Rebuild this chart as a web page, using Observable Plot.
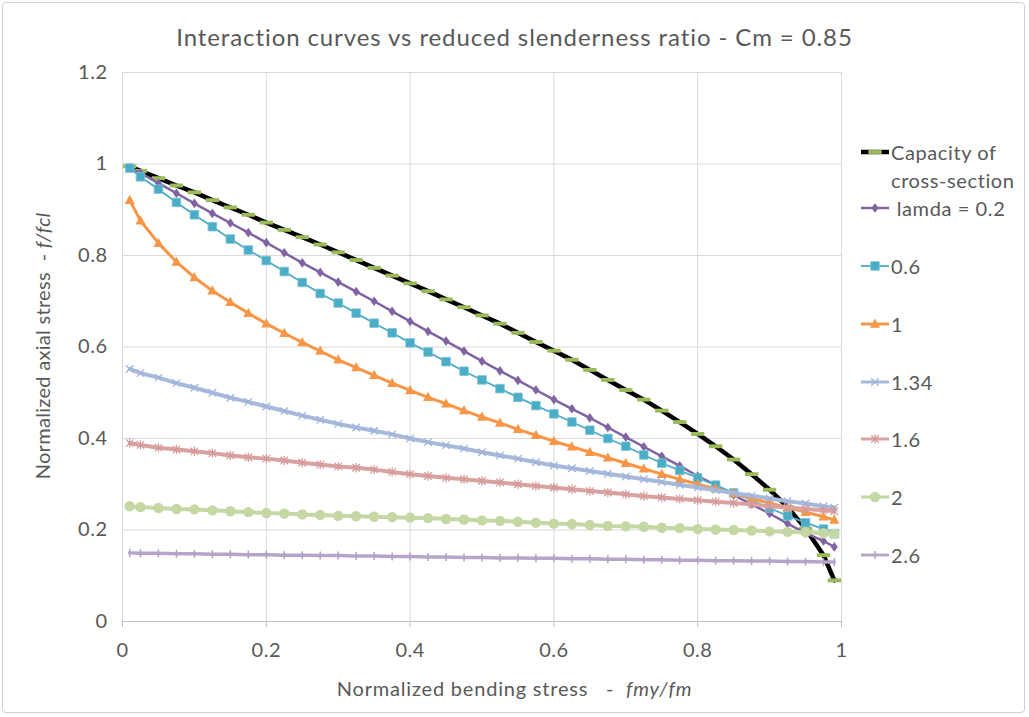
<!DOCTYPE html>
<html>
<head>
<meta charset="utf-8">
<script src="https://cdn.jsdelivr.net/npm/d3@7"></script>
<script src="https://cdn.jsdelivr.net/npm/@observablehq/plot@0.6"></script>
<style>
  html, body { margin: 0; padding: 0; background: #fff; }
  #wrap { position: relative; width: 1029px; height: 717px; font-family: Lato, "Open Sans", sans-serif; color: #595959; overflow: hidden; }
  #border { position: absolute; left: 2px; top: 2px; width: 1023px; height: 711px; border: 1px solid #D0D0D0; border-radius: 4px; box-sizing: border-box; }
  #title { position: absolute; left: 0; width: 1029px; top: 21px; text-align: center; font-size: 24px; letter-spacing: 0.9px; line-height: 32px; white-space: nowrap; }
  #ylab { position: absolute; left: 42px; top: 346px; transform: translate(-50%, -50%) rotate(-90deg); font-size: 20px; letter-spacing: 0.3px; white-space: nowrap; }
  #xlab { position: absolute; left: 0; width: 1029px; top: 676px; text-align: center; font-size: 20px; letter-spacing: 0.8px; white-space: pre; }
  #legend { position: absolute; left: 860px; top: 0; font-size: 20px; letter-spacing: 0.6px; }
  .lg { position: absolute; white-space: nowrap; }
  .lg svg { position: absolute; left: 0; }
  .lg span { position: absolute; left: 31px; }
  #chart { position: absolute; left: 0; top: 0; }
</style>
</head>
<body>
<div id="wrap">
  <div id="border"></div>
  <div id="chart"></div>
  <div id="title">Interaction curves vs reduced slenderness ratio - Cm = 0.85</div>
  <div id="ylab">Normalized axial stress&nbsp; - <i>f/fcl</i></div>
  <div id="xlab">Normalized bending stress   -  <i>fmy/fm</i></div>
  <div id="legend"></div>
</div>
<script>
// ---- data ----
const xs = [0.01, 0.025, 0.05, 0.075, 0.1, 0.125, 0.15, 0.175, 0.2, 0.225, 0.25, 0.275, 0.3, 0.325, 0.35, 0.375, 0.4, 0.425, 0.45, 0.475, 0.5, 0.525, 0.55, 0.575, 0.6, 0.625, 0.65, 0.675, 0.7, 0.725, 0.75, 0.775, 0.8, 0.825, 0.85, 0.875, 0.9, 0.925, 0.95, 0.975, 0.99];
const capacity = [0.995,0.985,0.969,0.953,0.938,0.921,0.905,0.889,0.872,0.856,0.840,0.824,0.807,0.790,0.773,0.756,0.739,0.722,0.704,0.687,0.669,0.651,0.631,0.611,0.592,0.572,0.550,0.528,0.506,0.485,0.461,0.436,0.410,0.383,0.354,0.322,0.288,0.250,0.203,0.145,0.090];
const lam02 = [0.992,0.980,0.958,0.936,0.914,0.892,0.871,0.850,0.828,0.806,0.784,0.763,0.742,0.721,0.700,0.678,0.656,0.634,0.613,0.591,0.569,0.548,0.527,0.506,0.485,0.465,0.445,0.424,0.403,0.382,0.361,0.340,0.318,0.298,0.276,0.256,0.236,0.214,0.193,0.176,0.163];
const lam06 = [0.991,0.972,0.945,0.916,0.889,0.863,0.836,0.812,0.789,0.765,0.741,0.717,0.696,0.674,0.652,0.631,0.609,0.589,0.568,0.547,0.528,0.509,0.490,0.472,0.454,0.436,0.418,0.400,0.383,0.364,0.346,0.330,0.314,0.298,0.281,0.265,0.248,0.231,0.216,0.202,0.192];
const lam10 = [0.921,0.876,0.827,0.786,0.752,0.723,0.698,0.674,0.651,0.630,0.610,0.591,0.572,0.555,0.538,0.521,0.505,0.490,0.476,0.461,0.447,0.434,0.420,0.407,0.394,0.382,0.370,0.358,0.346,0.334,0.322,0.311,0.300,0.290,0.280,0.269,0.259,0.249,0.239,0.229,0.222];
const lam134 = [0.552,0.543,0.533,0.521,0.511,0.500,0.489,0.480,0.470,0.460,0.450,0.441,0.432,0.424,0.417,0.409,0.400,0.392,0.385,0.378,0.370,0.363,0.356,0.348,0.341,0.335,0.329,0.323,0.317,0.311,0.305,0.299,0.293,0.287,0.281,0.275,0.269,0.263,0.258,0.252,0.249];
const lam16 = [0.390,0.386,0.380,0.376,0.372,0.368,0.363,0.359,0.356,0.352,0.347,0.343,0.339,0.336,0.332,0.327,0.322,0.318,0.314,0.311,0.307,0.304,0.300,0.296,0.293,0.289,0.285,0.282,0.278,0.274,0.271,0.268,0.265,0.262,0.259,0.256,0.252,0.249,0.246,0.243,0.241];
const lam20 = [0.252,0.250,0.248,0.246,0.245,0.243,0.241,0.239,0.237,0.236,0.234,0.233,0.231,0.230,0.229,0.228,0.227,0.226,0.224,0.223,0.221,0.220,0.218,0.216,0.214,0.213,0.211,0.209,0.208,0.207,0.205,0.204,0.202,0.201,0.200,0.199,0.197,0.196,0.195,0.193,0.192];
const lam26 = [0.150,0.149,0.149,0.148,0.148,0.147,0.147,0.146,0.146,0.145,0.145,0.144,0.144,0.143,0.143,0.142,0.142,0.141,0.141,0.140,0.140,0.139,0.139,0.138,0.138,0.137,0.137,0.136,0.136,0.135,0.135,0.134,0.134,0.133,0.133,0.132,0.132,0.131,0.131,0.130,0.130];
const seriesNames = ["Capacity of\ncross-section", " lamda = 0.2", "0.6", "1", "1.34", "1.6", "2", "2.6"];
const xTicks = [0, 0.2, 0.4, 0.6, 0.8, 1];
const yTicks = [0, 0.2, 0.4, 0.6, 0.8, 1, 1.2];

// ---- symbols ----
const rOf = s => Math.sqrt(s / Math.PI);
const dash = { draw(ctx, size) { const r = rOf(size); ctx.rect(-r * 1.45, -r * 0.42, r * 2.9, r * 0.84); } };
const vtick = { draw(ctx, size) { const r = rOf(size); ctx.moveTo(0, -r); ctx.lineTo(0, r); } };
const cross = { draw(ctx, size) { const r = rOf(size) * 0.75; ctx.moveTo(-r, -r); ctx.lineTo(r, r); ctx.moveTo(-r, r); ctx.lineTo(r, -r); } };
const aster = { draw(ctx, size) { const r = rOf(size) * 0.75; ctx.moveTo(-r, -r); ctx.lineTo(r, r); ctx.moveTo(-r, r); ctx.lineTo(r, -r); ctx.moveTo(0, -r * 1.25); ctx.lineTo(0, r * 1.25); } };
const diamond = { draw(ctx, size) { const r = rOf(size); ctx.moveTo(0, -r * 1.1); ctx.lineTo(r * 0.8, 0); ctx.lineTo(0, r * 1.1); ctx.lineTo(-r * 0.8, 0); ctx.closePath(); } };
const square = { draw(ctx, size) { const r = rOf(size); ctx.rect(-r, -r, 2 * r, 2 * r); } };
const tri = { draw(ctx, size) { const r = rOf(size); ctx.moveTo(0, -r * 1.1); ctx.lineTo(r, r * 0.75); ctx.lineTo(-r, r * 0.75); ctx.closePath(); } };
const circ = { draw(ctx, size) { const r = rOf(size); ctx.moveTo(r, 0); ctx.arc(0, 0, r, 0, 2 * Math.PI); } };

const styles = [
  { ys: capacity, line: "#000000", lw: 4.5, sym: dash, r: 4.6, fill: "#9BBB59", stroke: "none", sw: 0 },
  { ys: lam02, line: "#8064A2", lw: 2.5, sym: diamond, r: 4.4, fill: "#8064A2", stroke: "none", sw: 0 },
  { ys: lam06, line: "#4BACC6", lw: 1.8, sym: square, r: 4.3, fill: "#4BACC6", stroke: "#7CC3D7", sw: 0.8 },
  { ys: lam10, line: "#F79646", lw: 3, sym: tri, r: 5, fill: "#F79646", stroke: "none", sw: 0 },
  { ys: lam134, line: "#A7B9DA", lw: 4, sym: cross, r: 5, fill: "none", stroke: "#9FB3DA", sw: 1.2 },
  { ys: lam16, line: "#D9A2A1", lw: 4, sym: aster, r: 5, fill: "none", stroke: "#D39A99", sw: 1.2 },
  { ys: lam20, line: "#C5D7A3", lw: 4, sym: circ, r: 5.2, fill: "#C5D7A3", stroke: "none", sw: 0 },
  { ys: lam26, line: "#B5A6C9", lw: 3.5, sym: vtick, r: 4, fill: "none", stroke: "#B0A0C6", sw: 1.5 }
];

const fmt = d => String(+d.toFixed(1));
const marks = [
  Plot.gridX(xTicks, { stroke: "#D9D9D9", strokeOpacity: 1, strokeWidth: 1 }),
  Plot.gridY(yTicks, { stroke: "#D9D9D9", strokeOpacity: 1, strokeWidth: 1 }),
  Plot.ruleY([0], { stroke: "#BFBFBF", strokeWidth: 1.2 }),
  Plot.axisX(xTicks, { tickSize: 6, tickPadding: 15, stroke: "#BFBFBF", fill: "#595959", label: null, tickFormat: fmt, fontSize: 20 }),
  Plot.axisY(yTicks, { tickSize: 0, tickPadding: 15, fill: "#595959", label: null, tickFormat: fmt, fontSize: 20 })
];
styles.forEach((s) => {
  const data = xs.map((x, j) => ({ x, y: s.ys[j] }));
  marks.push(Plot.line(data, { x: "x", y: "y", stroke: s.line, strokeWidth: s.lw, strokeLinejoin: "round" }));
  marks.push(Plot.dot(data, { x: "x", y: "y", symbol: s.sym, r: s.r, fill: s.fill, stroke: s.stroke, strokeWidth: s.sw }));
});

const chart = Plot.plot({
  width: 1029, height: 717,
  marginLeft: 122, marginRight: 188, marginTop: 72, marginBottom: 96,
  x: { domain: [0, 1] },
  y: { domain: [0, 1.2] },
  style: { fontFamily: "Lato, 'Open Sans', sans-serif", fontSize: "20px", letterSpacing: "0.5px", color: "#595959", background: "transparent", overflow: "visible" },
  marks
});
document.getElementById("chart").appendChild(chart);

// ---- legend ----
const legend = d3.select("#legend");
const legendY = [152, 208, 266, 324, 382, 439, 497, 555];
styles.forEach((s, i) => {
  const lines = seriesNames[i].split("\n");
  const yc = legendY[i];
  const g = legend.append("div").attr("class", "lg").style("top", (yc - 11) + "px").style("left", "0px");
  const svg = g.append("svg").attr("width", 30).attr("height", 22).style("top", "0px");
  svg.append("line").attr("x1", 1).attr("x2", 29).attr("y1", 11).attr("y2", 11)
    .attr("stroke", s.line).attr("stroke-width", i === 0 ? 4.5 : Math.min(s.lw, 3));
  const sym = d3.symbol().type(s.sym).size(Math.PI * s.r * s.r);
  svg.append("path").attr("d", sym()).attr("transform", "translate(15,11)")
    .attr("fill", s.fill).attr("stroke", s.stroke).attr("stroke-width", s.sw);
  const sp = g.append("span");
  sp.html(lines.map(l => l.replace(/ /g, "&nbsp;")).join("<br>"));
  sp.style("line-height", "28px").style("top", "-3px");
});
</script>
</body>
</html>
